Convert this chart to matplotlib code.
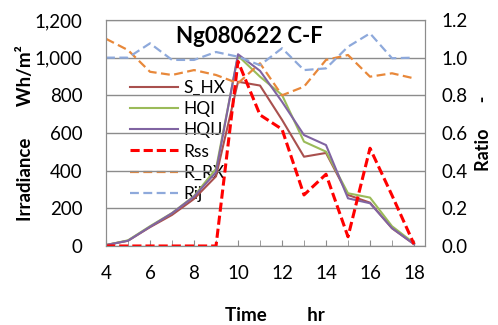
import numpy as np
import matplotlib.pyplot as plt

plt.rcParams['font.family'] = ['Lato', 'DejaVu Sans']

hours = [4, 5, 6, 7, 8, 9, 10, 11, 12, 13, 14, 15, 16, 17, 18]

# irradiance, Wh/m2
s_hx = [5, 28, 100, 165, 250, 370, 872, 852, 670, 474, 494, 271, 230, 94, 10]
hqi = [5, 30, 105, 175, 265, 410, 1010, 899, 802, 554, 501, 280, 257, 105, 15]
hqij = [5, 28, 102, 174, 262, 392, 1018, 930, 766, 589, 536, 253, 227, 95, 10]

# ratios
rss = [0, 0, 0, 0, 0, 0, 0.98, 0.696, 0.62, 0.271, 0.381, 0.049, 0.519, 0.269, 0.01]
r_rx = [1.10, 1.04, 0.925, 0.908, 0.934, 0.908, 0.864, 0.97, 0.80, 0.846,
        0.988, 1.014, 0.899, 0.917, 0.89]
rij = [1.0, 1.0, 1.076, 0.988, 0.988, 1.03, 1.005, 0.96, 1.05, 0.934,
       0.943, 1.058, 1.129, 0.997, 1.0]

GRID = '#8c8c8c'

fig = plt.figure(figsize=(4.98, 3.25), dpi=100)
ax = fig.add_axes([0.2129, 0.2431, 0.6405, 0.6954])
ax2 = ax.twinx()

l1, = ax.plot(hours, s_hx, color='#A9504E', lw=1.5, label='S_HX')
l2, = ax.plot(hours, hqi, color='#9BBB59', lw=1.5, label='HQI')
l3, = ax.plot(hours, hqij, color='#8064A2', lw=1.5, label='HQIJ')

l4, = ax2.plot(hours, rss, color='#FF0000', lw=2.2, dashes=(3, 1.3), label='Rss')
l5, = ax2.plot(hours, r_rx, color='#E8883A', lw=1.6, dashes=(4, 2), label='R_RX')
l6, = ax2.plot(hours, rij, color='#8EA9DB', lw=1.6, dashes=(4, 2), label='Rij')

ax.set_xlim(4, 18.5)
ax.set_ylim(0, 1200)
ax2.set_ylim(0, 1.2)

ax.set_xticks(range(4, 19, 2))
ax.set_xticks(range(4, 19), minor=True)
ax.set_yticks(range(0, 1201, 200))
ax.set_yticklabels(['{:,}'.format(v) for v in range(0, 1201, 200)])
ax2.set_yticks(np.arange(0, 1.21, 0.2))
ax2.set_yticklabels(['{:.1f}'.format(v) for v in np.arange(0, 1.21, 0.2)])

ax.tick_params(axis='x', which='both', direction='in', length=4, color=GRID,
               labelsize=13.5, pad=14)
ax.tick_params(axis='y', length=0, labelsize=13.5, pad=17)
ax2.tick_params(axis='y', length=0, labelsize=13.5, pad=12)

ax.grid(axis='y', color=GRID, lw=1)
for a in (ax, ax2):
    for s in a.spines.values():
        s.set_color(GRID)

ax.set_title('Ng080622 C-F', fontsize=16, fontweight='bold', x=0.45, y=0.86)
ax.set_xlabel('Time         hr', fontsize=13.5, fontweight='bold')
ax.xaxis.set_label_coords(0.53, -0.272)
ax.set_ylabel('Irradiance       Wh/m²', fontsize=13.5, fontweight='bold')
ax.yaxis.set_label_coords(-0.225, 0.5)
ax2.set_ylabel('Ratio      -', fontsize=13, fontweight='bold', labelpad=5)

leg = ax.legend(handles=[l1, l2, l3, l4, l5, l6], loc='upper left',
                bbox_to_anchor=(0.075, 0.735), frameon=False, fontsize=12.5,
                borderpad=0, borderaxespad=0, labelspacing=0.3,
                handlelength=2.77, handletextpad=0.3)
leg.set_zorder(1)

fig.savefig('out.png', dpi=100)
